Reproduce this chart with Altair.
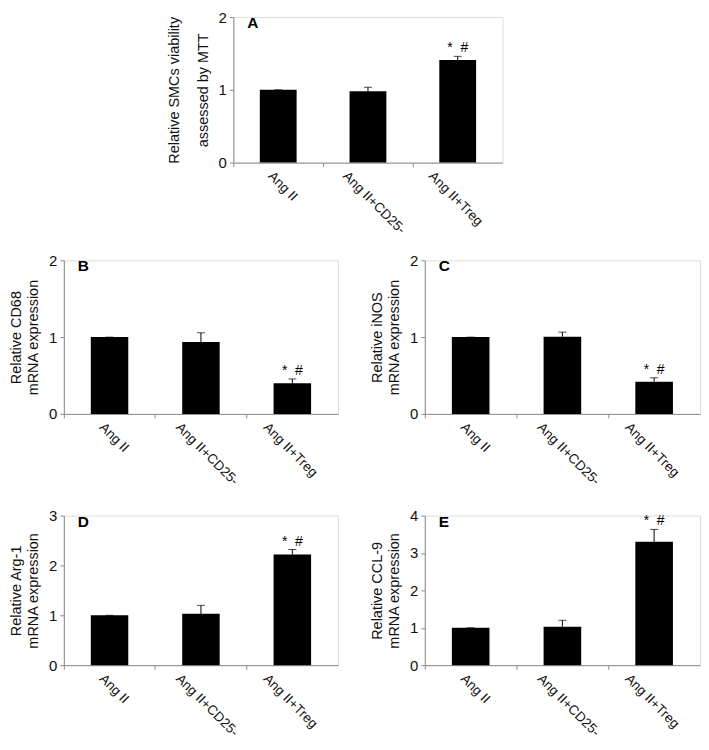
import altair as alt
import pandas as pd

FONT = "Liberation Sans"
AXIS_GRAY = "#8c8c8c"

groups = ["Ang II", "Ang II+CD25-", "Ang II+Treg"]
marks = ["", "", "*\u00a0\u00a0#"]

letters = ["A", "B", "C", "D", "E"]
titles = [
    ["Relative SMCs viability", "assessed by MTT"],
    ["Relative CD68", "mRNA expression"],
    ["Relative iNOS", "mRNA expression"],
    ["Relative Arg-1", "mRNA expression"],
    ["Relative CCL-9", "mRNA expression"],
]
y_max = [2, 2, 2, 3, 4]

means_A = [1.0, 0.98, 1.41]
upper_A = [1.0, 1.035, 1.46]
means_B = [1.0, 0.935, 0.40]
upper_B = [1.0, 1.056, 0.455]
means_C = [1.0, 1.005, 0.42]
upper_C = [1.0, 1.065, 0.47]
means_D = [1.0, 1.03, 2.22]
upper_D = [1.0, 1.20, 2.32]
means_E = [1.0, 1.03, 3.30]
upper_E = [1.0, 1.20, 3.63]

label_shift = {
    "condition": [
        {"test": "datum.value == 'Ang II'", "value": -3},
        {"test": "datum.value == 'Ang II+CD25-'", "value": -18},
    ],
    "value": -22,
}


def panel(letter, title, means, uppers, ymax, w, h, title_lh):
    df = pd.DataFrame({"group": groups, "mean": means, "upper": uppers, "mark": marks})
    x_axis = alt.Axis(
        title=None, labelAngle=45, labelAlign="left", labelBaseline="top",
        bandPosition=0, labelOffset=label_shift, tickSize=4, labelPadding=2,
        domainColor=AXIS_GRAY, tickColor=AXIS_GRAY, labelColor="#111111",
        labelFontSize=13.5, labelFont=FONT, labelOverlap=False,
    )
    x_scale = alt.Scale(paddingInner=0, paddingOuter=0)
    y_axis = alt.Axis(
        title=title, values=[float(v) for v in range(ymax + 1)], format=".0f",
        tickSize=4, labelPadding=3, domainColor=AXIS_GRAY, tickColor=AXIS_GRAY,
        labelColor="#111111", labelFontSize=15, labelFont=FONT, titleFont=FONT,
        titleFontSize=14.5, titleFontWeight="normal", titleColor="#111111",
        titlePadding=8, titleLineHeight=title_lh, grid=False,
        labelOverlap=False, labelFlush=False,
    )
    y_scale = alt.Scale(domain=[0, ymax], nice=False)
    X = alt.X("group:N", sort=groups, scale=x_scale, axis=x_axis)
    base = alt.Chart(df)
    bars = base.mark_bar(color="black", width=alt.RelativeBandSize(0.41)).encode(
        x=X, y=alt.Y("mean:Q", scale=y_scale, axis=y_axis)
    )
    err = base.mark_rule(color="black", strokeWidth=1).encode(
        x=X, y=alt.Y("mean:Q", scale=y_scale, axis=y_axis), y2="upper:Q"
    )
    cap = base.mark_tick(color="black", size=8, thickness=1).encode(
        x=X, y=alt.Y("upper:Q", scale=y_scale, axis=y_axis)
    )
    star = base.mark_text(baseline="bottom", dy=-1, fontSize=14, font=FONT,
                          color="black").encode(
        x=X, y=alt.Y("upper:Q", scale=y_scale, axis=y_axis), text="mark:N"
    )
    lab = alt.Chart(pd.DataFrame({"letter": [letter]})).mark_text(
        align="left", baseline="top", fontSize=15.5, fontWeight="bold", font=FONT,
        color="black"
    ).encode(x=alt.value(14), y=alt.value(-1), text="letter:N")
    return alt.layer(bars, err, cap, star, lab).properties(width=w, height=h)


pA = panel(letters[0], titles[0], means_A, upper_A, y_max[0], 270, 146, 28.5)
pB = panel(letters[1], titles[1], means_B, upper_B, y_max[1], 275, 154, 17)
pC = panel(letters[2], titles[2], means_C, upper_C, y_max[2], 276, 154, 17)
pD = panel(letters[3], titles[3], means_D, upper_D, y_max[3], 275, 150, 17)
pE = panel(letters[4], titles[4], means_E, upper_E, y_max[4], 276, 150, 17)

spacer_pos = [0, 97]
spacer = alt.Chart(pd.DataFrame({"s": spacer_pos})).mark_point(
    opacity=0, size=1
).encode(
    x=alt.X("s:Q", axis=None, scale=alt.Scale(domain=[0, 97])),
    y=alt.value(50),
).properties(width=97, height=100, view=alt.ViewBackground(stroke="transparent", strokeOpacity=0))

row1 = alt.hconcat(spacer, pA, spacing=4)
row2 = alt.hconcat(pB, pC, spacing=30)
row3 = alt.hconcat(pD, pE, spacing=30)

chart = alt.vconcat(
    row1, alt.vconcat(row2, row3, spacing=19), spacing=15
).properties(
    padding={"left": 0, "top": 0, "right": 0, "bottom": 0}
).configure_view(stroke="transparent", strokeOpacity=0).configure(font=FONT)

chart.save("out.html", embed_options={"renderer": "svg", "actions": False})
